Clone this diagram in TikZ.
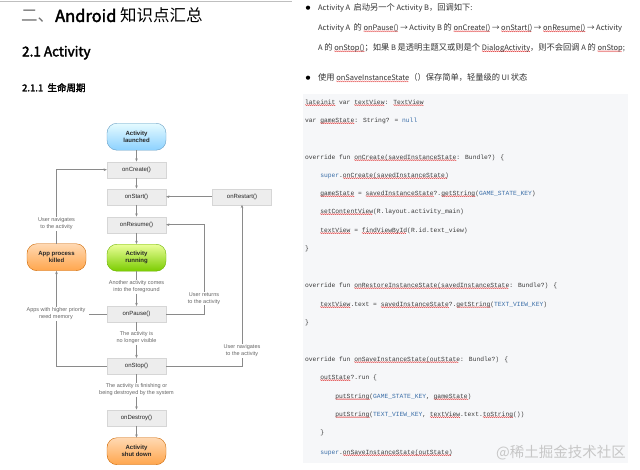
\documentclass[tikz,border=0pt]{standalone}
\usepackage{fontspec}
\usetikzlibrary{arrows.meta}
\setmainfont{Liberation Sans}
\newfontfamily\cjk{Noto Sans CJK SC}[AutoFakeBold=2.5]
\newfontfamily\codefont{Liberation Mono}
\definecolor{wavered}{HTML}{E03030}
\definecolor{linegray}{HTML}{8A8A8A}
\definecolor{boxfill}{HTML}{EDEDED}
\definecolor{boxdraw}{HTML}{D6D6D6}
\definecolor{codebg}{HTML}{F6F7F9}
\definecolor{codeblue}{HTML}{3A6EA8}
\definecolor{codetxt}{HTML}{3A3A3A}
\newsavebox\wavebox
\newsavebox\sqbox
\newcommand\sq[1]{\sbox\sqbox{#1}\rlap{\lower1.7pt\hbox to\wd\sqbox{\leaders\copy\wavebox\hfill}}\usebox\sqbox}
\newcommand\zh[1]{{\fontsize{8.25}{9}\selectfont #1}}
\newcommand\makewave{\sbox\wavebox{\pgfpicture
  \pgfpathrectangle{\pgfpoint{0pt}{-0.7pt}}{\pgfpoint{2pt}{1.4pt}}\pgfusepath{use as bounding box}%
  \pgfsetlinewidth{0.3pt}\pgfsetstrokecolor{wavered}%
  \pgfpathmoveto{\pgfpoint{0pt}{0pt}}%
  \pgfpathsine{\pgfpoint{0.5pt}{0.6pt}}%
  \pgfpathcosine{\pgfpoint{0.5pt}{-0.6pt}}%
  \pgfpathsine{\pgfpoint{0.5pt}{-0.6pt}}%
  \pgfpathcosine{\pgfpoint{0.5pt}{0.6pt}}%
  \pgfusepath{stroke}%
  \endpgfpicture}}
\tikzset{
  method/.style={draw=boxdraw, fill=boxfill, minimum width=59pt, minimum height=16pt, inner sep=0pt,
    font=\fontsize{6}{7}\selectfont, text=black!85},
  state/.style={draw=#1, rounded corners=10pt, minimum width=59pt, minimum height=27pt, inner sep=0pt,
    align=center, font=\bfseries\fontsize{6}{7}\selectfont, text=black!85},
  note/.style={align=center, font=\fontsize{5.5}{6.6}\selectfont, text=black!60, inner sep=1pt, fill=white},
  conn/.style={draw=linegray, line width=0.6pt},
  arr/.style={conn, -{Stealth[length=3.2pt,width=2.6pt]}},
  codeline/.style={anchor=west, inner sep=0pt, font=\codefont\fontsize{6.3}{7}\selectfont, text=codetxt},
  bodyline/.style={anchor=west, inner sep=0pt, font=\cjk\fontsize{7.5}{8}\selectfont, text=black!80},
}
\begin{document}
\begin{tikzpicture}[x=1pt, y=-1pt]
\makewave
\useasboundingbox (0,0) rectangle (640,469);
\fill[white] (0,0) rectangle (640,469);
\draw[black!25, line width=1pt] (0,0.5) -- (292,0.5);

% headings
\node[anchor=west, inner sep=0pt, font=\cjk\fontsize{16.5}{19}\selectfont] (h1) at (21,15)
  {\textcolor{black!55}{二、}\kern1pt\textbf{Android} 知识点汇总};
\node[anchor=west, inner sep=0pt, font=\cjk\bfseries\fontsize{13.5}{15}\selectfont] (h2) at (22,52) {2.1 Activity};
\node[anchor=west, inner sep=0pt, font=\cjk\bfseries\fontsize{9.5}{11}\selectfont] (h3) at (22,87) {2.1.1\ \ 生命周期};

% lifecycle diagram
\node[state=blue!40!cyan!60!black!60, top color=blue!15!cyan!10, bottom color=blue!40!cyan!45] (launched) at (136.5,136) {Activity\\launched};
\node[method] (create) at (136.5,169) {onCreate()};
\node[method] (start) at (136.5,196) {onStart()};
\node[method] (restart) at (242,196) {onRestart()};
\node[method] (resume) at (136.5,224) {onResume()};
\node[state=orange!80!black, top color=orange!30, bottom color=orange!70] (killed) at (56.5,256.5) {App process\\killed};
\node[state=green!40!yellow!70!black, top color=green!20!yellow!40, bottom color=green!40!yellow!80!black] (running) at (136.5,257) {Activity\\running};
\node[method] (pause) at (136.5,313.5) {onPause()};
\node[method] (stop) at (136.5,365.5) {onStop()};
\node[method] (destroy) at (136.5,417) {onDestroy()};
\node[state=orange!80!black, top color=orange!30, bottom color=orange!70] (down) at (136.5,450.5) {Activity\\shut down};

\coordinate (kc) at (56.5,169);
\coordinate (ks) at (56.5,365.5);
\coordinate (rp) at (204,313.5);
\coordinate (rr) at (204,224);
\coordinate (sr) at (242,365.5);

\draw[arr] (launched) -- (create);
\draw[arr] (create) -- (start);
\draw[arr] (start) -- (resume);
\draw[arr] (resume) -- (running);
\draw[arr] (destroy) -- (down);
\draw[arr] (restart) -- (start);
\draw[arr] (killed.north) -- (kc) -- (create.west);
\draw[arr] (stop.west) -- (ks) -- (killed.south);
\draw[arr] (pause.east) -- (rp) -- (rr) -- (resume.east);
\draw[arr] (stop.east) -- (sr) -- (restart.south);

\node[note] (n1) at (56.5,223) {User navigates\\to the activity};
\node[note] (n2) at (136.5,286) {Another activity comes\\into the foreground};
\node[note] (n3) at (56,313) {Apps with higher priority\\need memory};
\node[note] (n4) at (204,298) {User returns\\to the activity};
\node[note] (n5) at (136.5,337) {The activity is\\no longer visible};
\node[note] (n6) at (242,350) {User navigates\\to the activity};
\node[note] (n7) at (136.5,389) {The activity is finishing or\\being destroyed by the system};

\draw[conn] (running) -- (n2);
\draw[arr] (n2) -- (pause);
\draw[conn] (pause) -- (n5);
\draw[arr] (n5) -- (stop);
\draw[conn] (stop) -- (n7);
\draw[arr] (n7) -- (destroy);
\draw[conn] (pause.west) -- ([xshift=3pt]n3.east |- pause.west);

% right column text
\fill[black] (308,7) circle (2.1pt);
\fill[black] (308,77) circle (2.1pt);
\node[bodyline] (t1) at (318,7) {Activity A\ \ \zh{启动另一个} Activity B\zh{，回调如下}:};
\node[bodyline] (t2) at (318,27) {Activity A\ \ \zh{的} \sq{onPause()} → Activity B \zh{的} \sq{onCreate()} → \sq{onStart()} → \sq{onResume()} → Activity};
\node[bodyline] (t3) at (318,47) {A \zh{的} \sq{onStop()}\zh{；如果} B \zh{是透明主题又或则是个} \sq{DialogActivity}\zh{，则不会回调} A \zh{的} \sq{onStop};};
\node[bodyline] (t4) at (318,77) {\zh{使用} \sq{onSaveInstanceState}\zh{（）保存简单，轻量级的} UI \zh{状态}};

% code block
\fill[codebg] (303,93) rectangle (628,462);
\node[codeline] (c1) at (305,102) {\sq{lateinit} var \sq{textView}: \sq{TextView}};
\node[codeline] (c2) at (305,120) {var \sq{gameState}: String? = \textcolor{codeblue}{null}};
\node[codeline] (c3) at (305,157) {override fun \sq{onCreate(savedInstanceState}: Bundle?) \{};
\node[codeline] (c4) at (305,175) {\phantom{xxxx}\textcolor{codeblue}{super}.\sq{onCreate(savedInstanceState)}};
\node[codeline] (c5) at (305,193) {\phantom{xxxx}\sq{gameState} = \sq{savedInstanceState}?.\sq{getString}(\textcolor{codeblue}{GAME\_STATE\_KEY})};
\node[codeline] (c6) at (305,211) {\phantom{xxxx}\sq{setContentView}(R.layout.activity\_main)};
\node[codeline] (c7) at (305,230) {\phantom{xxxx}\sq{textView} = \sq{findViewById}(R.id.text\_view)};
\node[codeline] (c8) at (305,248) {\}};
\node[codeline] (c9) at (305,285) {override fun \sq{onRestoreInstanceState(savedInstanceState}: Bundle?) \{};
\node[codeline] (c10) at (305,304) {\phantom{xxxx}\sq{textView}.text = \sq{savedInstanceState}?.\sq{getString}(\textcolor{codeblue}{TEXT\_VIEW\_KEY})};
\node[codeline] (c11) at (305,322) {\}};
\node[codeline] (c12) at (305,359) {override fun \sq{onSaveInstanceState(outState}: Bundle?) \{};
\node[codeline] (c13) at (305,377) {\phantom{xxxx}\sq{outState}?.run \{};
\node[codeline] (c14) at (305,396) {\phantom{xxxxxxxx}\sq{putString}(\textcolor{codeblue}{GAME\_STATE\_KEY}, \sq{gameState})};
\node[codeline] (c15) at (305,414) {\phantom{xxxxxxxx}\sq{putString}(\textcolor{codeblue}{TEXT\_VIEW\_KEY}, \sq{textView}.text.\sq{toString}())};
\node[codeline] (c16) at (305,432) {\phantom{xxxx}\}};
\node[codeline] (c17) at (305,452) {\phantom{xxxx}\textcolor{codeblue}{super}.\sq{onSaveInstanceState(outState)}};

\node[anchor=east, inner sep=0pt, font=\cjk\fontsize{14.5}{16}\selectfont, text=black!22] (wm) at (626,452) {@稀土掘金技术社区};
\end{tikzpicture}
\end{document}
